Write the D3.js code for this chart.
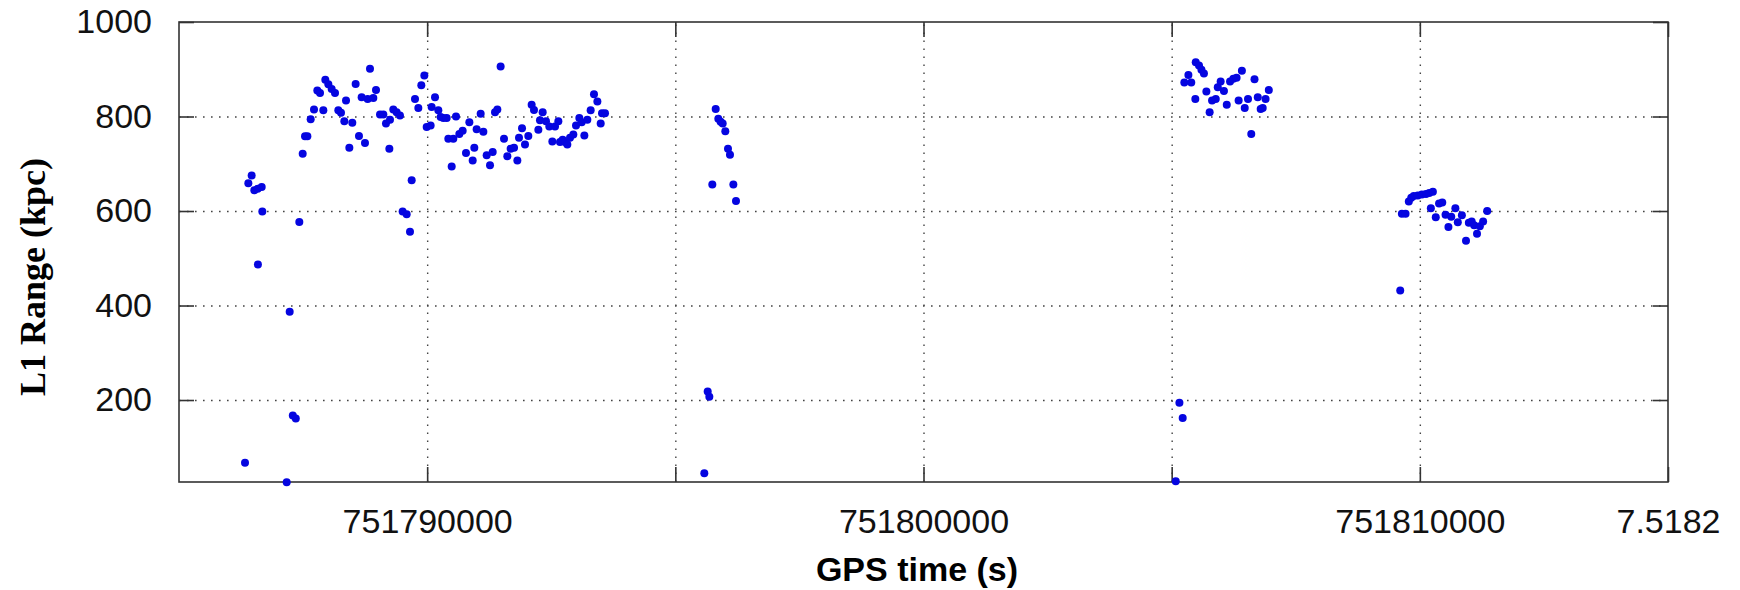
<!DOCTYPE html>
<html>
<head>
<meta charset="utf-8">
<script src="https://cdn.jsdelivr.net/npm/d3@7"></script>
<style>
  html, body { margin: 0; padding: 0; background: #fff; }
  .tick text { font-family: "Liberation Sans", Arial, sans-serif; font-size: 34px; fill: #111; }
  .grid line { stroke: #444; stroke-width: 1.4; stroke-dasharray: 1.6 6.4; }
  .grid path { display: none; }
  .frame path, .frame line { stroke: #333; stroke-width: 1.6; }
</style>
</head>
<body>
<div id="chart"></div>
<script>
// GPS time (s) and L1 range (kpc)
const gpsTime = [
    751786330, 751786397, 751786464, 751786518, 751786585, 751786590, 751786666, 751786679,
    751787170, 751787230, 751787293, 751787353, 751787424, 751787492, 751787539, 751787586,
    751787653, 751787720, 751787787, 751787841, 751787908, 751787948, 751788009, 751788076,
    751788143, 751788210, 751788264, 751788331, 751788365, 751788432, 751788492, 751788559,
    751788626, 751788680, 751788747, 751788801, 751788848, 751788915, 751788969, 751789050,
    751789117, 751789170, 751789238, 751789251, 751789318, 751789385, 751789452, 751789506,
    751789587, 751789654, 751789688, 751789755, 751789822, 751789882, 751789943, 751789990,
    751790070, 751790090, 751790158, 751790225, 751790272, 751790326, 751790393, 751790426,
    751790494, 751790527, 751790581, 751790648, 751790715, 751790782, 751790850, 751790917,
    751790950, 751790997, 751791078, 751791132, 751791199, 751791266, 751791320, 751791367,
    751791414, 751791480, 751791548, 751791615, 751791682, 751791750, 751791817, 751791850,
    751791911, 751791971, 751792038, 751792105, 751792152, 751792240, 751792273, 751792327,
    751792394, 751792461, 751792522, 751792576, 751792643, 751792676, 751792730, 751792777,
    751792824, 751792878, 751792945, 751792999, 751793066, 751793113, 751793167, 751793227,
    751793294, 751793361, 751793429, 751793496, 751793523, 751793583,
    751795584, 751795652, 751795685, 751795745, 751795813, 751795866, 751795913, 751795954,
    751796007, 751796061, 751796101, 751796169, 751796222,
    751805082, 751805156, 751805222, 751805255, 751805337, 751805395, 751805477, 751805485,
    751805551, 751805600, 751805650, 751805699, 751805765, 751805814, 751805888, 751805929,
    751805987, 751806053, 751806110, 751806176, 751806242, 751806308, 751806349, 751806415,
    751806472, 751806538, 751806604, 751806669, 751806735, 751806793, 751806834, 751806892,
    751806957,
    751809605, 751809638, 751809712, 751809778, 751809827, 751809877, 751809959, 751810041,
    751810124, 751810190, 751810263, 751810222, 751810321, 751810387, 751810452, 751810518,
    751810576, 751810633, 751810716, 751810765, 751810847, 751810930, 751810987, 751811045,
    751811094, 751811152, 751811209, 751811275, 751811357
];

const rangeKpc = [
    67, 659, 675, 644, 647, 487, 651, 599,
    26, 387, 167, 161, 577, 721, 758, 758,
    794, 815, 855, 850, 813, 878, 868, 858,
    850, 813, 808, 790, 834, 734, 787, 869,
    759, 841, 744, 837, 901, 839, 856, 804,
    804, 785, 732, 793, 815, 809, 802, 599,
    593, 556, 665, 837, 818, 866, 887, 778,
    781, 820, 841, 813, 799, 797, 797, 753,
    694, 753, 800, 763, 770, 723, 788, 707,
    734, 773, 806, 768, 718, 697, 725, 809,
    815, 906, 753, 716, 732, 734, 707, 755,
    775, 741, 759, 825, 814, 772, 792, 809,
    790, 779, 747, 779, 790, 746, 751, 746,
    741, 755, 762, 781, 797, 788, 760, 793,
    813, 847, 832, 785, 807, 807,
    45, 218, 207, 656, 816, 795, 789, 785,
    769, 732, 719, 656, 621,
    28, 194, 162, 872, 888, 872, 837, 915,
    908, 899, 891, 853, 809, 834, 837, 862,
    874, 854, 825, 874, 880, 882, 834, 897,
    818, 837, 763, 879, 841, 816, 818, 837,
    856,
    432, 594, 594, 620, 628, 632, 633, 635,
    636, 638, 641, 606, 587, 616, 618, 592,
    566, 588, 606, 576, 591, 537, 575, 578,
    570, 552, 568, 578, 600
];

const xLimits = [751785000, 751815000];
const yLimits = [26.5, 1000];
const xGridValues = [751790000, 751795000, 751800000, 751805000, 751810000, 751815000];
const xTickLabels = { 751790000: '751790000', 751800000: '751800000', 751810000: '751810000', 751815000: '7.5182' };
const yTickValues = [200, 400, 600, 800, 1000];

function createScatterplot() {
    const width = 1740;
    const height = 590;
    const plot = { left: 179, right: 1668, top: 22, bottom: 482 };

    const svg = d3.select('#chart')
        .append('svg')
        .attr('width', width)
        .attr('height', height)
        .style('display', 'block');

    const xScale = d3.scaleLinear().domain(xLimits).range([plot.left, plot.right]);
    const yScale = d3.scaleLinear().domain(yLimits).range([plot.bottom, plot.top]);

    // dotted grid
    svg.append('g')
        .attr('class', 'grid')
        .attr('transform', `translate(${plot.left}, 0)`)
        .call(d3.axisLeft(yScale).tickValues(yTickValues.slice(0, -1)).tickFormat('').tickSize(-(plot.right - plot.left)));

    svg.append('g')
        .attr('class', 'grid')
        .attr('transform', `translate(0, ${plot.bottom})`)
        .call(d3.axisBottom(xScale).tickValues(xGridValues.slice(0, -1)).tickFormat('').tickSize(-(plot.bottom - plot.top)));

    // box with inward ticks, matlab style
    const tickLen = 15;
    svg.append('g')
        .attr('class', 'frame')
        .attr('transform', `translate(${plot.left}, 0)`)
        .call(d3.axisLeft(yScale).tickValues(yTickValues).tickFormat(d3.format('d')).tickSizeInner(-tickLen).tickSizeOuter(0).tickPadding(tickLen + 12));

    svg.append('g')
        .attr('class', 'frame')
        .attr('transform', `translate(${plot.right}, 0)`)
        .call(d3.axisRight(yScale).tickValues(yTickValues).tickFormat('').tickSizeInner(-tickLen).tickSizeOuter(0));

    svg.append('g')
        .attr('class', 'frame')
        .attr('transform', `translate(0, ${plot.bottom})`)
        .call(d3.axisBottom(xScale).tickValues(xGridValues).tickFormat((d) => xTickLabels[d] || '').tickSizeInner(-tickLen).tickSizeOuter(0).tickPadding(tickLen + 12));

    svg.append('g')
        .attr('class', 'frame')
        .attr('transform', `translate(0, ${plot.top})`)
        .call(d3.axisTop(xScale).tickValues(xGridValues).tickFormat('').tickSizeInner(-tickLen).tickSizeOuter(0));

    svg.selectAll('.frame .domain').remove();
    svg.append('rect')
        .attr('x', plot.left)
        .attr('y', plot.top)
        .attr('width', plot.right - plot.left)
        .attr('height', plot.bottom - plot.top)
        .attr('fill', 'none')
        .attr('stroke', '#333')
        .attr('stroke-width', 1.6);

    const points = gpsTime.map((t, i) => ({ t, r: rangeKpc[i] }));

    svg.append('g')
        .attr('class', 'dots')
        .selectAll('circle')
        .data(points)
        .join('circle')
        .attr('cx', (d) => xScale(d.t))
        .attr('cy', (d) => yScale(d.r))
        .attr('r', 4)
        .attr('fill', '#0505e0');

    // axis labels
    svg.append('text')
        .attr('x', 917)
        .attr('y', 581)
        .attr('text-anchor', 'middle')
        .style('font-family', '"Liberation Sans", Arial, sans-serif')
        .style('font-weight', 'bold')
        .style('font-size', '34px')
        .text('GPS time (s)');

    svg.append('text')
        .attr('transform', 'translate(45, 277) rotate(-90)')
        .attr('text-anchor', 'middle')
        .style('font-family', '"Liberation Serif", "Times New Roman", serif')
        .style('font-weight', 'bold')
        .style('font-size', '36px')
        .text('L1 Range (kpc)');
}

document.addEventListener('DOMContentLoaded', createScatterplot);
</script>
</body>
</html>
